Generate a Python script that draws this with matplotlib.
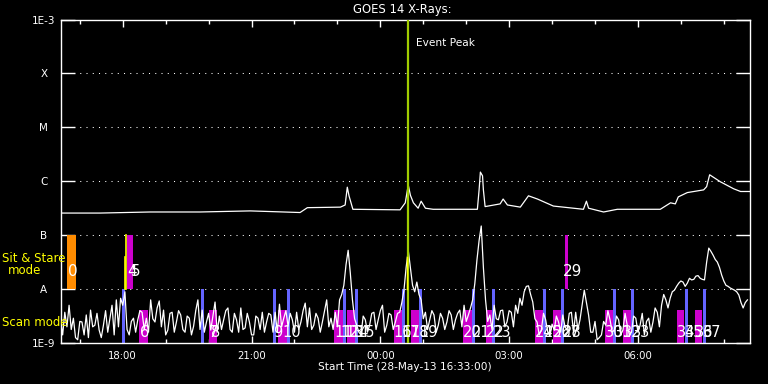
import numpy as np
import matplotlib
matplotlib.use('Agg')
import matplotlib.pyplot as plt
from matplotlib.ticker import NullLocator, FixedLocator, FixedFormatter

# ---------------- data (time = hours after 28-May-13 16:33:00) ----------------
t_end = 16.06
xtick_hours = [1.45, 4.45, 7.45, 10.45, 13.45]
xtick_labels = ['18:00', '21:00', '00:00', '03:00', '06:00']
minor_hours = [0.45 + k for k in range(16)]

ylevels = [1e-3, 1e-4, 1e-5, 1e-6, 1e-7, 1e-8, 1e-9]
ylabels = ['1E-3', 'X', 'M', 'C', 'B', 'A', '1E-9']
grid_levels = [1e-4, 1e-5, 1e-6, 1e-7, 1e-8]

# long channel (1-8 A), log10 flux
long_t = [0.01, 0.92, 2.09, 3.25, 4.42, 5.58, 5.75, 6.52, 6.63, 6.68, 6.72, 6.81,
          7.91, 8.03, 8.10, 8.15, 8.22, 8.33, 8.40, 8.50, 8.68, 9.71, 9.75, 9.78,
          9.83, 9.85, 9.89, 10.24, 10.31, 10.41, 10.71, 10.90, 11.11, 11.48, 12.18,
          12.25, 12.30, 12.65, 12.97, 13.97, 14.21, 14.32, 14.39, 14.60, 14.98,
          15.05, 15.12, 15.37, 15.68, 15.84, 16.06]
long_log = [-6.59, -6.59, -6.57, -6.57, -6.55, -6.58, -6.49, -6.48, -6.44, -6.11, -6.27, -6.52,
            -6.53, -6.40, -6.07, -6.26, -6.40, -6.50, -6.37, -6.50, -6.52, -6.52, -6.16, -5.83,
            -5.90, -6.16, -6.47, -6.42, -6.33, -6.44, -6.48, -6.27, -6.33, -6.46, -6.52,
            -6.37, -6.50, -6.57, -6.52, -6.52, -6.40, -6.42, -6.29, -6.21, -6.16,
            -6.10, -5.88, -6.01, -6.14, -6.19, -6.19]

# short channel (0.5-4 A), log10 flux; samples on the hour-tenths (0.0, 0.1, ...)
short_log_a = [
    -8.57, -8.43, -8.30, -8.54, -8.94, -8.61, -8.48, -8.39, -8.67, -8.76,
    -8.67, -8.80, -8.30, -8.20, -8.17, -8.05, -8.85, -8.54, -8.57, -8.43,
    -8.54, -8.20, -8.61, -8.22, -8.39, -8.76, -8.43, -8.61, -8.48, -8.80,
    -8.54, -8.69, -8.20, -8.39, -8.61, -8.76, -8.24, -8.50, -8.57, -8.35,
    -8.80, -8.57, -8.35, -8.72, -8.61, -8.85, -8.54, -8.43, -8.61, -8.48,
    -8.43, -8.28, -8.54, -8.69, -8.57, -8.43, -8.61, -8.26, -8.35, -8.67,
    -8.54, -8.61, -8.20, -8.54, -8.43, -8.20, -7.93, -7.28, -8.20, -8.67,
    -8.85, -8.57, -8.67, -8.43, -8.57, -8.30, -8.67, -8.48, -8.61, -8.43,
    -8.02, -7.28, -7.93, -7.87, -8.20, -8.43, -8.57, -8.48, -8.67, -8.54,
    -8.61, -8.48, -8.57, -8.39, -8.30, -8.48, -8.20, -7.46, -6.83, -8.20,
    -8.48, -8.30, -8.57, -8.39, -8.61, -8.43, -8.30, -8.17, -8.05, -7.94,
    -8.24, -8.61, -8.76, -8.57, -8.87, -8.76, -8.61, -8.48, -8.76, -8.43,
    -8.43, -8.57, -8.02, -8.48, -8.80, -8.94, -8.85, -8.67, -8.57, -8.76,
    -8.57, -8.76, -8.67, -8.80, -8.54, -8.67, -8.85, -8.54, -8.61, -8.43,
    -8.30, -8.20, -8.17, -8.02, -7.89, -7.87, -7.89, -7.83, -7.76, -7.80,
    -7.83, -7.24, -7.37, -7.50, -7.74, -7.93, -7.98, -8.02, -8.11, -8.35,
    -8.20]
# short channel samples half-way between those (0.05, 0.15, ...)
short_log_b = [
    -8.85, -8.70, -8.75, -8.90, -8.60, -8.85, -8.90, -8.70, -8.45, -8.90,
    -8.40, -8.55, -8.85, -8.70, -8.30, -8.75, -8.60, -8.80, -8.40, -8.75,
    -8.80, -8.55, -8.35, -8.70, -8.85, -8.45, -8.80, -8.40, -8.75, -8.50,
    -8.85, -8.40, -8.75, -8.80, -8.45, -8.50, -8.80, -8.75, -8.40, -8.75,
    -8.45, -8.80, -8.75, -8.45, -8.85, -8.50, -8.75, -8.80, -8.45, -8.80,
    -8.80, -8.70, -8.40, -8.45, -8.80, -8.75, -8.40, -8.70, -8.75, -8.45,
    -8.80, -8.40, -8.70, -8.75, -8.70, -8.10, -7.55, -7.70, -8.55, -8.80,
    -8.50, -8.80, -8.45, -8.75, -8.40, -8.80, -8.45, -8.75, -8.45, -8.25,
    -7.60, -7.60, -8.05, -8.10, -8.55, -8.75, -8.40, -8.80, -8.45, -8.75,
    -8.40, -8.75, -8.45, -8.70, -8.60, -8.35, -7.90, -7.10, -7.60, -8.60,
    -8.75, -8.55, -8.40, -8.70, -8.40, -8.70, -8.45, -8.30, -7.95, -8.10,
    -8.55, -8.85, -8.45, -8.80, -8.65, -8.50, -8.80, -8.70, -8.45, -8.80,
    -8.75, -8.30, -8.25, -8.80, -8.60, -8.90, -8.60, -8.40, -8.80, -8.50,
    -8.85, -8.45, -8.85, -8.50, -8.80, -8.45, -8.60, -8.80, -8.35, -8.70,
    -8.10, -8.35, -8.05, -7.95, -7.85, -7.95, -7.80, -7.82, -7.75, -7.82,
    -7.50, -7.30, -7.45, -7.60, -7.85, -7.95, -8.00, -8.05, -8.25, -8.25]
short_step = 0.1

event_peak = 8.09

# Sit & Stare observations (start, end) in hours
ss_orange = [(0.15, 0.36)]
ss_magenta = [(1.55, 1.69), (11.74, 11.83)]
ss_yellow = [1.53]
ss_labels = ['0', '4', '5', '29']
ss_label_t = [0.17, 1.55, 1.64, 11.71]

# Scan observations
scan_magenta = [(1.83, 2.04), (3.46, 3.65), (5.07, 5.28), (6.38, 6.58), (6.67, 6.86),
                (7.77, 8.01), (8.17, 8.36), (9.38, 9.62), (9.90, 10.06),
                (11.06, 11.25), (11.48, 11.67), (12.69, 12.88), (13.11, 13.30),
                (14.35, 14.53), (14.77, 14.95)]
scan_blue = [1.47, 3.31, 4.99, 5.31, 6.62, 6.89, 8.00, 8.39, 9.63, 10.09,
             11.28, 11.70, 12.91, 13.33, 14.57, 14.99]
scan_labels = ['6', '7', '8', '9', '10', '11', '12', '13', '14', '15',
               '16', '17', '18', '19', '20', '21', '22', '23',
               '24', '25', '26', '27', '28', '30', '31', '32', '33',
               '34', '35', '36', '37']
scan_label_t = [1.85, 3.46, 3.51, 4.95, 5.16, 6.38, 6.52, 6.63, 6.75, 6.89,
                7.75, 7.94, 8.15, 8.36, 9.38, 9.59, 9.90, 10.08,
                11.06, 11.25, 11.48, 11.67, 11.69, 12.69, 12.88, 13.11, 13.30,
                14.35, 14.55, 14.77, 14.97]

# ---------------- figure ----------------
W, H = 768, 384
fig = plt.figure(figsize=(W / 100, H / 100), dpi=100, facecolor='black')
ax = fig.add_axes([60.5 / W, 1 - 343 / H, (750 - 60.5) / W, (343 - 19.5) / H])
ax.set_facecolor('black')
ax.set_yscale('log')
ax.set_xlim(0, t_end)
ax.set_ylim(1e-9, 1e-3)

for s in ax.spines.values():
    s.set_color('white')
    s.set_linewidth(1.0)

ORANGE = '#ff8c00'
MAGENTA = '#cc00cc'
BLUE = '#6464ff'
YELLOW = '#ffff00'
EVENT = '#a0cc00'

# grid
for lv in grid_levels:
    ax.axhline(lv, color='white', lw=0.75, ls=(0, (1, 5)), zorder=1)

# Sit & Stare bars (band B..A)
for a, b in ss_orange:
    ax.bar(a, 1e-7 - 1e-8, width=b - a, bottom=1e-8, align='edge', color=ORANGE, lw=0, zorder=2)
for a, b in ss_magenta:
    ax.bar(a, 1e-7 - 1e-8, width=b - a, bottom=1e-8, align='edge', color=MAGENTA, lw=0, zorder=2)
for x in ss_yellow:
    ax.plot([x, x], [1e-8, 1e-7], color=YELLOW, lw=1.2, zorder=3)
ax.plot([1.51, 1.51], [1e-8, 10 ** -7.4], color=YELLOW, lw=1.2, zorder=3)

# Scan bars
for a, b in scan_magenta:
    ax.bar(a, 10 ** -8.39 - 1e-9, width=b - a, bottom=1e-9, align='edge', color=MAGENTA, lw=0, zorder=2)
for x in scan_blue:
    ax.bar(x, 1e-8 - 1e-9, width=0.07, bottom=1e-9, align='center', color=BLUE, lw=0, zorder=2.5)

# data curves
t_a = np.arange(len(short_log_a)) * short_step
t_b = np.arange(len(short_log_b)) * short_step + short_step / 2
short_t = np.concatenate([t_a, t_b])
short_v = np.concatenate([short_log_a, short_log_b])
order = np.argsort(short_t)
ax.plot(short_t[order], 10 ** short_v[order], color='white', lw=0.9, zorder=4)
ax.plot(long_t, 10 ** np.array(long_log), color='white', lw=0.9, zorder=4)

# event peak
ax.axvline(event_peak, color=EVENT, lw=1.6, zorder=5)
ax.plot([event_peak - 0.02, event_peak - 0.02], [1e-8, 10 ** -7.4], color=YELLOW, lw=1.0, zorder=5)
ax.text(event_peak + 0.2, 10 ** -3.43, 'Event Peak', color='white', fontsize=7.6,
        va='center', ha='left', zorder=6)

# labels for observations
for lab, t in zip(ss_labels, ss_label_t):
    ax.text(t, 10 ** -7.68, lab, color='white', fontsize=11, ha='left', va='center', zorder=6)
for lab, t in zip(scan_labels, scan_label_t):
    ax.text(t, 10 ** -8.80, lab, color='white', fontsize=10.5, ha='left', va='center', zorder=6)

# y ticks
ax.yaxis.set_major_locator(FixedLocator(ylevels))
ax.yaxis.set_major_formatter(FixedFormatter(ylabels))
ax.yaxis.set_minor_locator(NullLocator())
ax.tick_params(axis='y', which='major', direction='in', length=10, width=1.0,
               colors='white', left=True, right=True, labelsize=7.5, pad=12)
for lbl in ax.get_yticklabels():
    lbl.set_horizontalalignment('center')

# x ticks
ax.set_xticks(xtick_hours)
ax.set_xticklabels(xtick_labels)
ax.set_xticks(minor_hours, minor=True)
ax.tick_params(axis='x', which='major', direction='in', length=5, width=1.0,
               colors='white', top=True, bottom=True, labelsize=7.3, pad=6)
ax.tick_params(axis='x', which='minor', direction='in', length=3, width=1.0,
               colors='white', top=True, bottom=True)

# figure texts
fig.text(402 / W, 1 - 9.5 / H, 'GOES 14 X-Rays:', color='white', fontsize=8.4,
         ha='center', va='center')
fig.text(405 / W, 1 - 367 / H, 'Start Time (28-May-13 16:33:00)', color='white',
         fontsize=7.6, ha='center', va='center')
fig.text(2 / W, 1 - 259 / H, 'Sit & Stare', color=YELLOW, fontsize=8.5, ha='left', va='center')
fig.text(24.5 / W, 1 - 271 / H, 'mode', color=YELLOW, fontsize=8.5, ha='center', va='center')
fig.text(2 / W, 1 - 323 / H, 'Scan mode', color=YELLOW, fontsize=8.5, ha='left', va='center')

fig.savefig('out.png', dpi=100, facecolor='black')
